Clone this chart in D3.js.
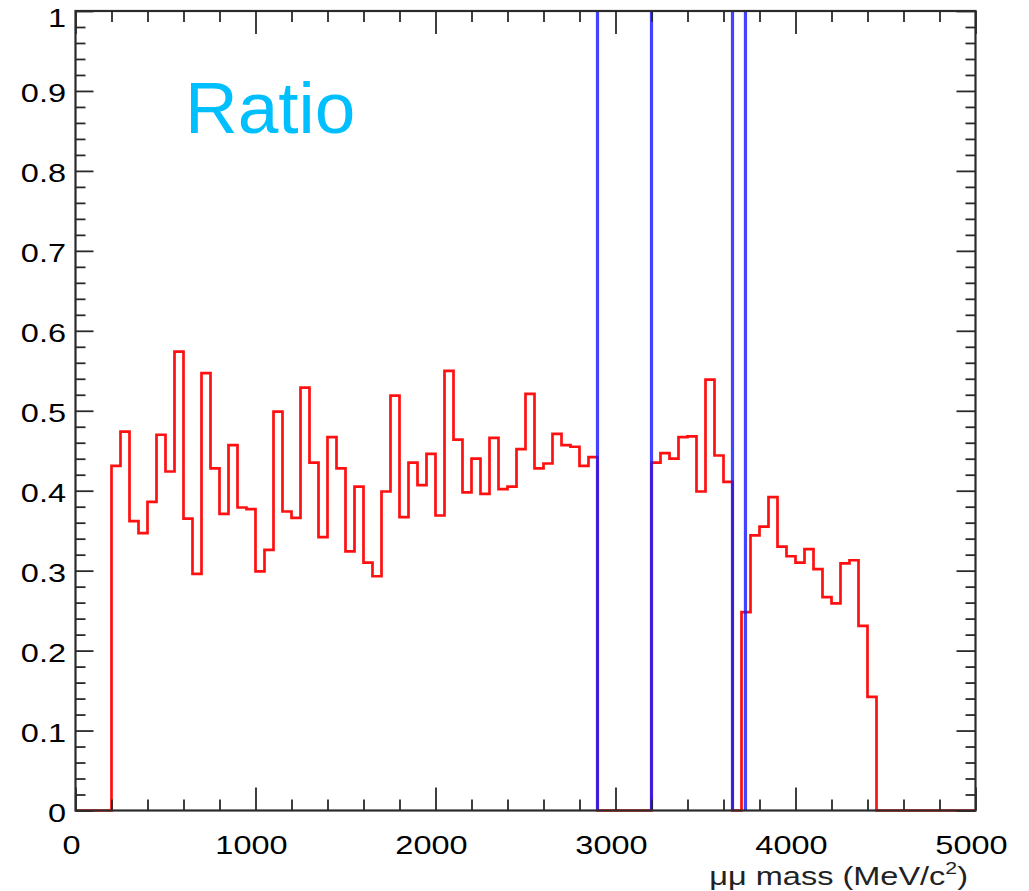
<!DOCTYPE html>
<html>
<head>
<meta charset="utf-8">
<script src="https://cdn.jsdelivr.net/npm/d3@7"></script>
<style>
  html, body { margin: 0; padding: 0; background: #fff; }
  svg { display: block; }
  text { font-family: "Liberation Sans", Arial, Helvetica, sans-serif; }
</style>
</head>
<body>
<svg id="chart" width="1029" height="891"></svg>
<script>
// ---- data ----
const massMin = 0, massMax = 5000;
const binWidthMeV = 50;              // histogram bins of 50 MeV starting at 0
const ratioValues = [
  0, 0, 0, 0,
  0.431, 0.474, 0.362, 0.347, 0.386, 0.470, 0.424, 0.574, 0.365, 0.296,
  0.547, 0.428, 0.371, 0.457, 0.379, 0.377,
  0.299, 0.326, 0.499, 0.374, 0.366, 0.529, 0.435, 0.342, 0.467, 0.428,
  0.324, 0.405, 0.310, 0.293, 0.399, 0.519, 0.367, 0.435, 0.407, 0.446,
  0.369, 0.550, 0.464, 0.398, 0.440, 0.396, 0.466, 0.402, 0.405, 0.452,
  0.521, 0.428, 0.434, 0.471, 0.457, 0.455, 0.431, 0.442,
  0, 0, 0, 0, 0, 0,
  0.435, 0.447, 0.440, 0.467, 0.468, 0.399, 0.539, 0.444, 0.411,
  0,
  0.248, 0.344, 0.355, 0.392, 0.330, 0.318, 0.310, 0.327, 0.302, 0.267,
  0.259, 0.309, 0.313, 0.231, 0.142,
  0, 0, 0, 0, 0, 0, 0, 0, 0, 0, 0
];
const markerMasses = [2900, 3200, 3650, 3722];
const xTickLabels = ["0", "1000", "2000", "3000", "4000", "5000"];
const xTickValues = [0, 1000, 2000, 3000, 4000, 5000];
const yTickLabels = ["0", "0.1", "0.2", "0.3", "0.4", "0.5", "0.6", "0.7", "0.8", "0.9", "1"];
const yTickValues = [0, 0.1, 0.2, 0.3, 0.4, 0.5, 0.6, 0.7, 0.8, 0.9, 1];
const titleText = "Ratio";

// ---- layout ----
const svg = d3.select("#chart");
const plotLeft = 75.5, plotRight = 975.5, plotTop = 11, plotBottom = 810.5;
const x = d3.scaleLinear().domain([massMin, massMax]).range([plotLeft, plotRight]);
const y = d3.scaleLinear().domain([0, 1]).range([plotBottom, plotTop]);
const axisColor = "#2a2a2a";
const stretch = 1.25;

// ---- histogram (red step line) ----
const pts = ratioValues.map((v, i) => [massMin + i * binWidthMeV, v]);
pts.push([massMax, ratioValues[ratioValues.length - 1]]);
const line = d3.line().x(d => x(d[0])).y(d => y(d[1])).curve(d3.curveStepAfter);
svg.append("path")
  .attr("d", line(pts))
  .attr("fill", "none")
  .attr("stroke", "#ff1010")
  .attr("stroke-width", 2.7)
  .attr("stroke-linejoin", "miter");

// ---- blue marker lines ----
svg.selectAll("line.marker").data(markerMasses).enter().append("line")
  .attr("class", "marker")
  .attr("x1", d => x(d)).attr("x2", d => x(d))
  .attr("y1", y(1)).attr("y2", y(0))
  .attr("stroke", "#1a1aff")
  .attr("stroke-opacity", 0.82)
  .attr("stroke-width", 3.2);

// ---- axes (ticks inside, ROOT style) ----
const xMinor = d3.range(massMin, massMax + 1, 200).filter(v => v % 1000 !== 0);
const yMinor = d3.range(0, 51, 1).map(v => v / 50).filter((v, i) => i % 5 !== 0);

function styleAxis(g) {
  g.select(".domain").remove();
  g.selectAll(".tick line").attr("stroke", axisColor).attr("stroke-width", 1.8);
  g.selectAll(".tick text").remove();
}
svg.append("g").attr("transform", `translate(0,${plotBottom})`)
  .call(d3.axisBottom(x).tickValues(xTickValues).tickSize(-23).tickFormat("")).call(styleAxis);
svg.append("g").attr("transform", `translate(0,${plotBottom})`)
  .call(d3.axisBottom(x).tickValues(xMinor).tickSize(-11).tickFormat("")).call(styleAxis);
svg.append("g").attr("transform", `translate(0,${plotTop})`)
  .call(d3.axisTop(x).tickValues(xTickValues).tickSize(-23).tickFormat("")).call(styleAxis);
svg.append("g").attr("transform", `translate(0,${plotTop})`)
  .call(d3.axisTop(x).tickValues(xMinor).tickSize(-11).tickFormat("")).call(styleAxis);
svg.append("g").attr("transform", `translate(${plotLeft},0)`)
  .call(d3.axisLeft(y).tickValues(yTickValues).tickSize(-18).tickFormat("")).call(styleAxis);
svg.append("g").attr("transform", `translate(${plotLeft},0)`)
  .call(d3.axisLeft(y).tickValues(yMinor).tickSize(-10).tickFormat("")).call(styleAxis);
svg.append("g").attr("transform", `translate(${plotRight},0)`)
  .call(d3.axisRight(y).tickValues(yTickValues).tickSize(-19).tickFormat("")).call(styleAxis);
svg.append("g").attr("transform", `translate(${plotRight},0)`)
  .call(d3.axisRight(y).tickValues(yMinor).tickSize(-10).tickFormat("")).call(styleAxis);

// frame
svg.append("rect")
  .attr("x", plotLeft).attr("y", plotTop)
  .attr("width", plotRight - plotLeft).attr("height", plotBottom - plotTop)
  .attr("fill", "none").attr("stroke", axisColor).attr("stroke-width", 2.2);

// ---- tick labels (stretched horizontally as in the reference) ----
svg.selectAll("text.ylab").data(yTickValues).enter().append("text")
  .attr("class", "ylab")
  .attr("transform", (d, i) => {
    const yy = i === yTickValues.length - 1 ? y(d) + 16 : y(d) + 11;
    return `translate(66,${yy}) scale(${stretch},1)`;
  })
  .attr("text-anchor", "end")
  .attr("font-size", 26)
  .attr("fill", "#000")
  .text((d, i) => yTickLabels[i]);

svg.selectAll("text.xlab").data(xTickValues).enter().append("text")
  .attr("class", "xlab")
  .attr("transform", d => `translate(${x(d) - 4},854) scale(${stretch},1)`)
  .attr("text-anchor", "middle")
  .attr("font-size", 26)
  .attr("fill", "#000")
  .text((d, i) => xTickLabels[i]);

// axis title
const t = svg.append("text")
  .attr("transform", `translate(968,885) scale(${stretch},1)`)
  .attr("text-anchor", "end")
  .attr("font-size", 26)
  .attr("fill", "#222");
t.append("tspan").text("\u03bc\u03bc mass (MeV/c");
t.append("tspan").attr("font-size", 17).attr("dy", -11).text("2");
t.append("tspan").attr("dy", 11).text(")");

// "Ratio" label
svg.append("text")
  .attr("x", 185).attr("y", 133)
  .attr("font-size", 73)
  .attr("fill", "#00bfff")
  .text(titleText);
</script>
</body>
</html>
